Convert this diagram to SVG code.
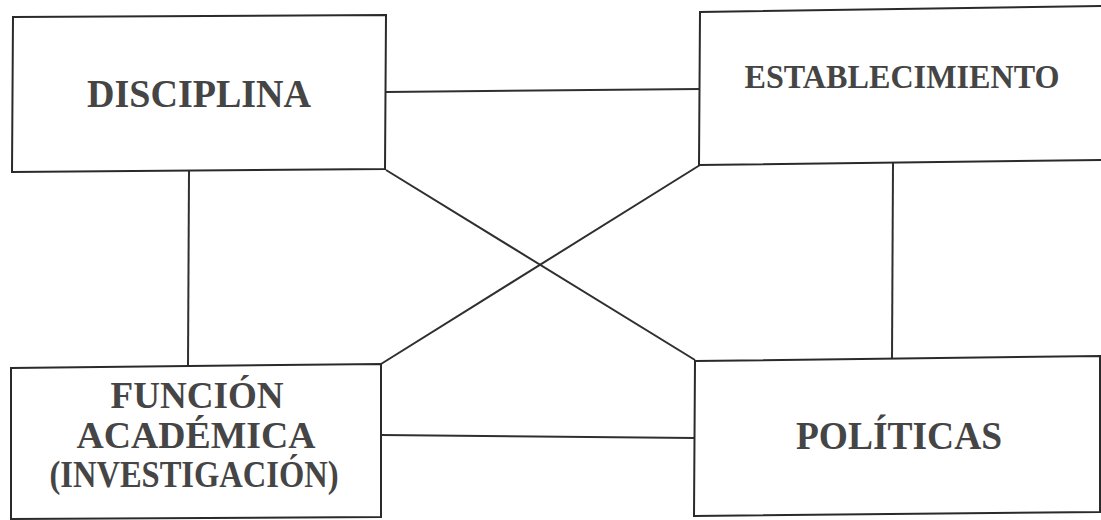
<svg xmlns="http://www.w3.org/2000/svg" width="1101" height="520" viewBox="0 0 1101 520">
  <style>
    .box { fill: none; stroke: #2a2a2a; stroke-width: 2; stroke-linejoin: miter; }
    .link { stroke: #2f2f2f; stroke-width: 2; fill: none; }
    .label { font-family: "Liberation Serif", "Times New Roman", serif; font-weight: bold; fill: #454545; text-anchor: middle; }
  </style>
  <rect width="1101" height="520" fill="#ffffff"/>

  <!-- connectors -->
  <g id="connectors">
    <line class="link" x1="386" y1="92" x2="700" y2="89"/>
    <line class="link" x1="189" y1="171" x2="188" y2="366"/>
    <line class="link" x1="893" y1="163" x2="892" y2="358"/>
    <line class="link" x1="381" y1="435" x2="695" y2="438"/>
    <line class="link" x1="386" y1="170" x2="695" y2="360"/>
    <line class="link" x1="700" y1="165" x2="381" y2="364"/>
  </g>

  <!-- DISCIPLINA -->
  <g id="node-disciplina">
    <polygon class="box" points="13,17 386,15 385,169 12,172"/>
    <text class="label" x="199" y="107" font-size="39" textLength="224" lengthAdjust="spacingAndGlyphs">DISCIPLINA</text>
  </g>

  <!-- ESTABLECIMIENTO -->
  <g id="node-establecimiento">
    <polyline class="box" points="1105,6 700,12 699,165 1105,160"/>
    <text class="label" x="902" y="88" font-size="34" textLength="315" lengthAdjust="spacingAndGlyphs">ESTABLECIMIENTO</text>
  </g>

  <!-- FUNCIÓN ACADÉMICA (INVESTIGACIÓN) -->
  <g id="node-funcion">
    <polygon class="box" points="11,368 381,364 381,517 11,519"/>
    <text class="label" x="197" y="408" font-size="37" textLength="173" lengthAdjust="spacingAndGlyphs">FUNCIÓN</text>
    <text class="label" x="196" y="448" font-size="37" textLength="239" lengthAdjust="spacingAndGlyphs">ACADÉMICA</text>
    <text class="label" x="194" y="487" font-size="37" textLength="289" lengthAdjust="spacingAndGlyphs">(INVESTIGACIÓN)</text>
  </g>

  <!-- POLÍTICAS -->
  <g id="node-politicas">
    <polygon class="box" points="695,361 1100,356 1100,512 694,516"/>
    <text class="label" x="899" y="449" font-size="39" textLength="206" lengthAdjust="spacingAndGlyphs">POLÍTICAS</text>
  </g>
</svg>
